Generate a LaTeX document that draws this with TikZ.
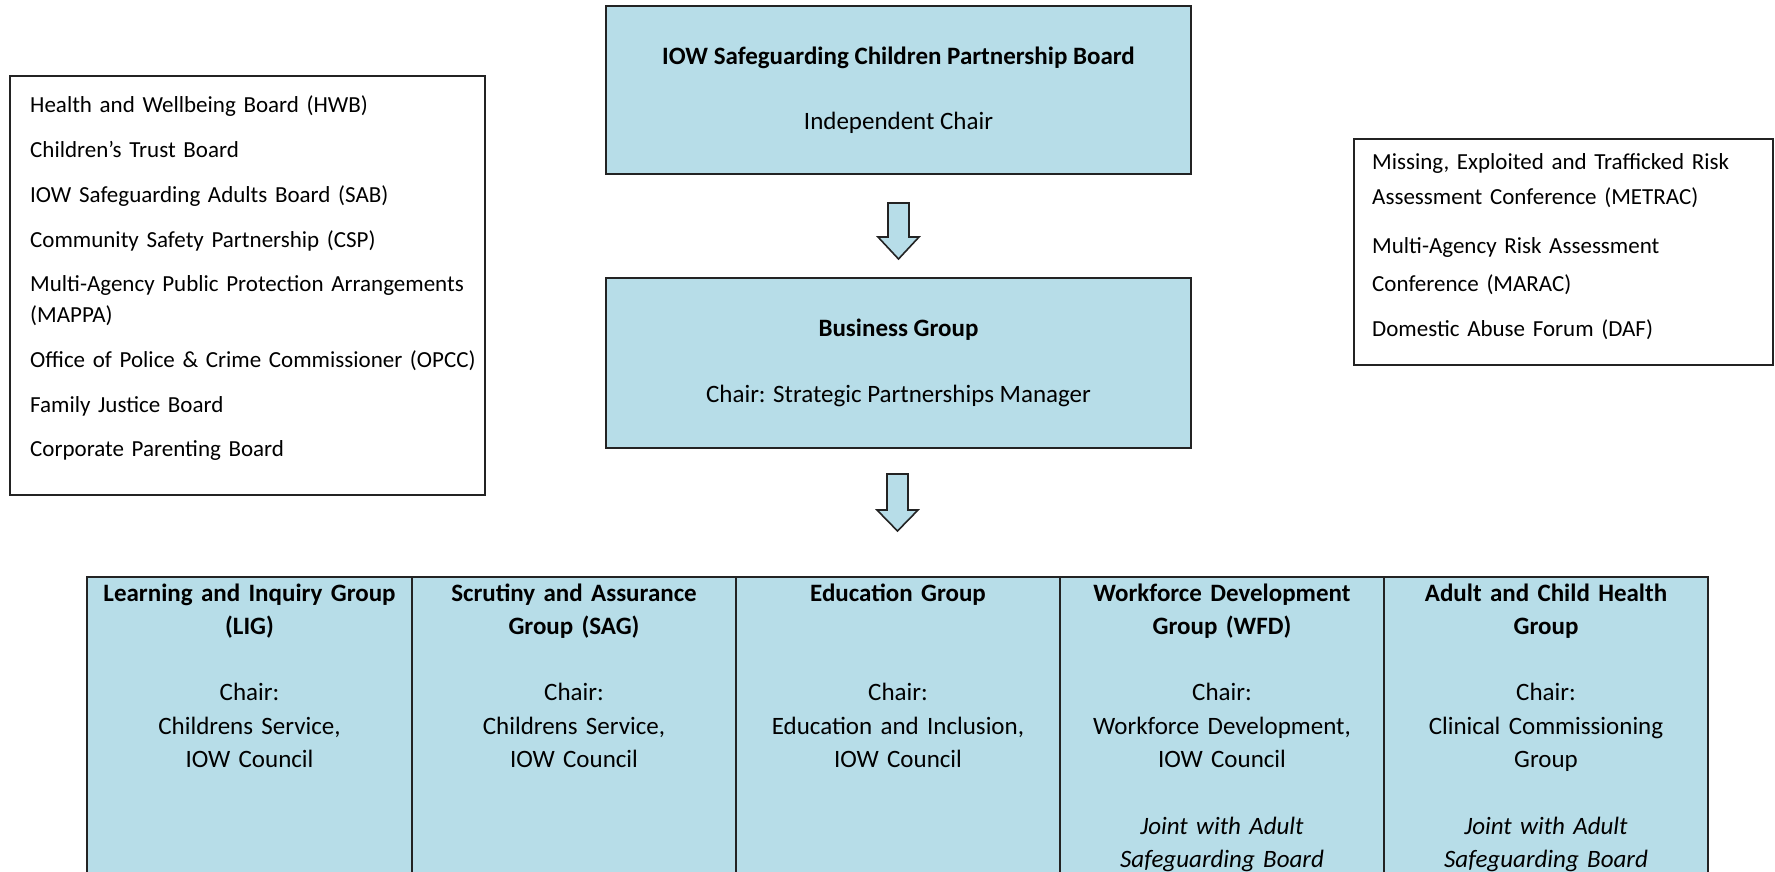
\documentclass[tikz,border=0pt]{standalone}
\usepackage{fontspec}
\setmainfont{Carlito}
\usetikzlibrary{calc}
\definecolor{boxblue}{RGB}{183,221,232}
\definecolor{edgecol}{RGB}{35,35,35}
\begin{document}
\begin{tikzpicture}[x=1pt,y=-1pt,
  bluebox/.style={draw=edgecol, line width=2pt, fill=boxblue, minimum width=585pt, align=center, font=\fontsize{25pt}{65.5pt}\selectfont, inner sep=0pt},
  listbox/.style={draw=edgecol, line width=2pt, fill=white, inner sep=0pt},
  listtext/.style={anchor=base west, align=left, inner sep=0pt, text width=#1},
  cell/.style={draw=edgecol, line width=1.6pt, fill=boxblue, minimum width=324pt, minimum height=340pt, anchor=north, inner sep=0pt},
  celltext/.style={anchor=base, align=center, inner sep=0pt, text width=318pt, font=\fontsize{25pt}{33.3pt}\selectfont},
  blockarrow/.style={draw=edgecol, line width=1.6pt, fill=boxblue, line join=miter}
]
\clip (0,0) rectangle (1775,872);
\fill[white] (0,0) rectangle (1775,872);

% central boxes
\node[bluebox, minimum height=168pt] (board) at (898.5,90)
  {\textbf{IOW Safeguarding Children Partnership Board}\\Independent Chair};
\node[bluebox, minimum height=170pt] (business) at (898.5,363)
  {\textbf{Business Group}\\Chair: Strategic Partnerships Manager};

% left list box
\node[listbox, minimum width=475pt, minimum height=419pt] (partners) at (247.5,285.5) {};
\node[listtext=450pt, font=\fontsize{23pt}{31pt}\selectfont] (partnerlist) at (30,113)
  {Health and Wellbeing Board (HWB)\\[13.7pt]
   Children’s Trust Board\\[13.7pt]
   IOW Safeguarding Adults Board (SAB)\\[13.7pt]
   Community Safety Partnership (CSP)\\[13.7pt]
   Multi-Agency Public Protection Arrangements\\
   (MAPPA)\\[13.7pt]
   Office of Police \& Crime Commissioner (OPCC)\\[13.7pt]
   Family Justice Board\\[13.7pt]
   Corporate Parenting Board};

% right list box
\node[listbox, minimum width=419pt, minimum height=226pt] (risk) at (1563.5,252) {};
\node[listtext=395pt, font=\fontsize{23pt}{35pt}\selectfont] (risklist) at (1372,170)
  {Missing, Exploited and Trafficked Risk\\
   Assessment Conference (METRAC)\\[13pt]
   Multi-Agency Risk Assessment\\[4pt]
   Conference (MARAC)\\[10pt]
   Domestic Abuse Forum (DAF)};

% block arrows
\draw[blockarrow] ($(board.south)+(-10.5,28)$) -- ($(board.south)+(10.5,28)$)
  -- ($(board.south)+(10.5,62)$) -- ($(board.south)+(20.5,62)$)
  -- ($(board.south)+(0,84)$) -- ($(board.south)+(-20.5,62)$)
  -- ($(board.south)+(-10.5,62)$) -- cycle;
\draw[blockarrow] ($(business.south)+(-11.5,25)$) -- ($(business.south)+(9.5,25)$)
  -- ($(business.south)+(9.5,61)$) -- ($(business.south)+(19.5,61)$)
  -- ($(business.south)+(-1,82)$) -- ($(business.south)+(-21.5,61)$)
  -- ($(business.south)+(-11.5,61)$) -- cycle;

% sub-group table
\node[cell, minimum width=325pt] (lig) at (249.5,576) {};
\node[cell] (sag) at (574,576) {};
\node[cell] (edu) at (898,576) {};
\node[cell] (wfd) at (1222,576) {};
\node[cell] (ach) at (1546,576) {};

\node[celltext] (ligtext) at ($(lig.north)+(0,25)$)
  {\textbf{Learning and Inquiry Group}\\\textbf{(LIG)}\\[33.3pt]Chair:\\Childrens Service,\\IOW Council};
\node[celltext] (sagtext) at ($(sag.north)+(0,25)$)
  {\textbf{Scrutiny and Assurance}\\\textbf{Group (SAG)}\\[33.3pt]Chair:\\Childrens Service,\\IOW Council};
\node[celltext] (edutext) at ($(edu.north)+(0,25)$)
  {\textbf{Education Group}\\[66.6pt]Chair:\\Education and Inclusion,\\IOW Council};
\node[celltext] (wfdtext) at ($(wfd.north)+(0,25)$)
  {\textbf{Workforce Development}\\\textbf{Group (WFD)}\\[33.3pt]Chair:\\Workforce Development,\\IOW Council\\[33.3pt]\textit{Joint with Adult}\\\textit{Safeguarding Board}};
\node[celltext] (achtext) at ($(ach.north)+(0,25)$)
  {\textbf{Adult and Child Health}\\\textbf{Group}\\[33.3pt]Chair:\\Clinical Commissioning\\Group\\[33.3pt]\textit{Joint with Adult}\\\textit{Safeguarding Board}};
\end{tikzpicture}
\end{document}
